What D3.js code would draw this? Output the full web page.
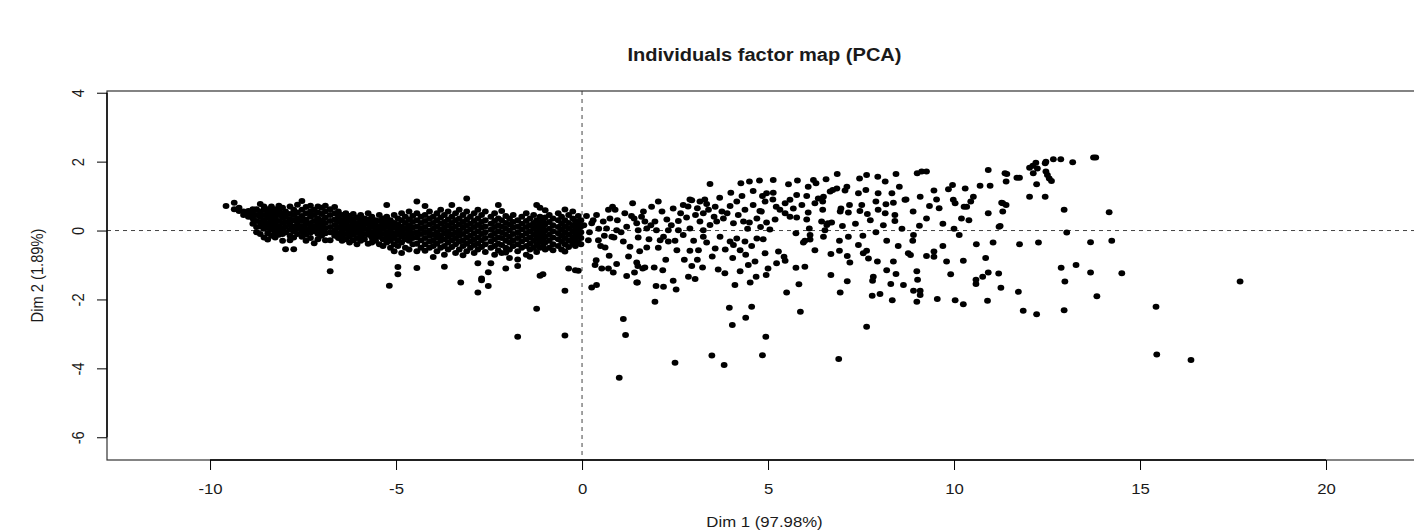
<!DOCTYPE html>
<html>
<head>
<meta charset="utf-8">
<script src="https://cdn.jsdelivr.net/npm/d3@7"></script>
<style>
body { margin: 0; background: #fff; }
svg { display: block; }
text { font-family: "Liberation Sans", Arial, sans-serif; fill: #1a1a1a; }
</style>
</head>
<body>
<svg id="chart" width="1414" height="530"></svg>
<script>
var xTicks = [-10, -5, 0, 5, 10, 15, 20];
var yTicks = [-6, -4, -2, 0, 2, 4];

// dense band on the left: [x, [y values]]
var bandColumns = [
	[-9.57, [0.71]],
	[-9.35, [0.81, 0.62]],
	[-9.22, [0.57, 0.66]],
	[-9.1, [0.55, 0.45]],
	[-8.97, [0.57, 0.4, 0.48]],
	[-8.85, [0.5, 0.35, 0.2, 0.62]],
	[-8.75, [0.45, 0.28, 0.1, 0.62, -0.05]],
	[-8.65, [0.77, 0.55, 0.4, 0.25, 0.12, -0.1]],
	[-8.55, [0.6, 0.45, 0.3, 0.18, 0.05, -0.2, 0.7]],
	[-8.45, [0.5, 0.38, 0.22, 0.08, -0.08, -0.26, 0.62]],
	[-8.35, [0.55, 0.42, 0.3, 0.15, 0.02, -0.15, 0.7]],
	[-8.25, [0.62, 0.48, 0.35, 0.2, 0.08, -0.05, -0.2]],
	[-8.15, [0.58, 0.45, 0.28, 0.12, 0.0, -0.12, 0.72]],
	[-8.05, [0.66, 0.5, 0.38, 0.22, 0.05, -0.1, -0.3]],
	[-7.97, [0.55, 0.4, 0.25, 0.1, -0.05, -0.54]],
	[-7.85, [0.7, 0.48, 0.33, 0.18, 0.02, -0.15, -0.28]],
	[-7.75, [0.6, 0.45, 0.3, 0.12, -0.02, -0.2, -0.54]],
	[-7.65, [0.75, 0.52, 0.36, 0.2, 0.05, -0.1]],
	[-7.53, [0.86, 0.6, 0.42, 0.28, 0.12, -0.02, -0.18]],
	[-7.42, [0.68, 0.5, 0.32, 0.18, 0.03, -0.12, -0.3]],
	[-7.3, [0.72, 0.55, 0.4, 0.22, 0.08, -0.06, -0.22]],
	[-7.2, [0.6, 0.45, 0.28, 0.12, -0.02, -0.37]],
	[-7.1, [0.7, 0.52, 0.35, 0.2, 0.05, -0.1, -0.25]],
	[-7.0, [0.66, 0.48, 0.3, 0.15, 0.0, -0.15]],
	[-6.9, [0.72, 0.55, 0.38, 0.22, 0.07, -0.08, -0.28]],
	[-6.77, [0.62, 0.45, 0.28, 0.1, -0.05, -0.28, -0.8, -1.18]],
	[-6.65, [0.68, 0.5, 0.32, 0.16, 0.0, -0.15]],
	[-6.55, [0.55, 0.4, 0.25, 0.08, -0.08, -0.22]],
	[-6.45, [0.45, 0.3, 0.15, 0.0, -0.15, -0.3]],
	[-6.35, [0.5, 0.35, 0.2, 0.05, -0.1, -0.25]],
	[-6.25, [0.42, 0.28, 0.12, -0.02, -0.18, -0.35]],
	[-6.15, [0.48, 0.32, 0.18, 0.03, -0.12, -0.28]],
	[-6.05, [0.38, 0.22, 0.08, -0.06, -0.22, -0.4]],
	[-5.95, [0.45, 0.3, 0.15, 0.0, -0.15, -0.3]],
	[-5.85, [0.35, 0.2, 0.05, -0.1, -0.25]],
	[-5.75, [0.5, 0.32, 0.18, 0.02, -0.12, -0.38]],
	[-5.65, [0.4, 0.25, 0.1, -0.05, -0.2, -0.35]],
	[-5.55, [0.3, 0.15, 0.0, -0.15, -0.3]],
	[-5.45, [0.45, 0.28, 0.12, -0.03, -0.18, -0.4]],
	[-5.35, [0.35, 0.2, 0.05, -0.1, -0.25, -0.45]],
	[-5.25, [0.74, 0.4, 0.25, 0.1, -0.05, -0.2, -0.35]],
	[-5.18, [-1.6]],
	[-5.15, [0.3, 0.15, 0.0, -0.15, -0.3, -0.5]],
	[-5.05, [0.45, 0.22, 0.08, -0.08, -0.22, -0.4, -0.6]],
	[-4.95, [0.35, 0.18, 0.02, -0.12, -0.28, -0.45, -1.06, -1.27]],
	[-4.85, [0.5, 0.3, 0.12, -0.02, -0.18, -0.35, -0.65]],
	[-4.75, [0.4, 0.22, 0.05, -0.1, -0.25, -0.5]],
	[-4.65, [0.55, 0.32, 0.15, 0.0, -0.15, -0.3, -0.55]],
	[-4.55, [0.42, 0.25, 0.08, -0.08, -0.22, -0.4]],
	[-4.44, [0.84, 0.5, 0.3, 0.12, -0.05, -0.2, -0.38, -0.6, -1.09]],
	[-4.33, [0.4, 0.22, 0.05, -0.1, -0.28, -0.5]],
	[-4.22, [0.71, 0.45, 0.28, 0.1, -0.05, -0.22, -0.4, -0.59]],
	[-4.1, [0.55, 0.35, 0.18, 0.0, -0.15, -0.32, -0.5]],
	[-4.0, [0.4, 0.22, 0.05, -0.12, -0.28, -0.45, -0.77]],
	[-3.9, [0.5, 0.3, 0.12, -0.05, -0.2, -0.38, -0.6]],
	[-3.8, [0.6, 0.38, 0.2, 0.02, -0.15, -0.3, -0.5]],
	[-3.7, [0.45, 0.25, 0.08, -0.08, -0.25, -0.45, -0.7, -1.05]],
	[-3.6, [0.55, 0.32, 0.15, -0.02, -0.18, -0.35, -0.55]],
	[-3.5, [0.74, 0.4, 0.22, 0.05, -0.12, -0.28, -0.48]],
	[-3.4, [0.5, 0.3, 0.12, -0.05, -0.22, -0.4, -0.65]],
	[-3.3, [0.6, 0.35, 0.18, 0.0, -0.15, -0.32, -0.55]],
	[-3.2, [0.45, 0.25, 0.08, -0.1, -0.28, -0.45, -0.72]],
	[-3.1, [0.93, 0.55, 0.32, 0.15, -0.02, -0.2, -0.38, -0.6]],
	[-3.0, [0.4, 0.2, 0.03, -0.15, -0.32, -0.5]],
	[-2.9, [0.5, 0.28, 0.1, -0.08, -0.25, -0.42, -0.65]],
	[-2.8, [0.6, 0.35, 0.16, -0.02, -0.2, -0.38, -0.55, -0.95, -1.8]],
	[-2.7, [0.45, 0.25, 0.08, -0.1, -0.28, -0.48, -1.39, -1.44]],
	[-2.6, [0.55, 0.3, 0.12, -0.05, -0.22, -0.4, -0.62]],
	[-2.52, [-1.21, -1.61]],
	[-2.45, [0.4, 0.2, 0.02, -0.15, -0.32, -0.5, -0.95]],
	[-2.35, [0.5, 0.28, 0.1, -0.08, -0.25, -0.45, -0.7]],
	[-2.25, [0.74, 0.35, 0.15, -0.02, -0.2, -0.38, -0.58]],
	[-2.16, [0.57, 0.3, 0.12, -0.05, -0.22, -0.42, -0.65]],
	[-2.05, [0.42, 0.22, 0.05, -0.12, -0.3, -0.5, -0.64, -1.1]],
	[-1.95, [0.35, 0.18, 0.0, -0.18, -0.35, -0.55, -0.8]],
	[-1.85, [0.45, 0.25, 0.08, -0.1, -0.28, -0.45]],
	[-1.73, [0.3, 0.12, -0.05, -0.22, -0.4, -0.6, -0.84, -1.03, -3.08]],
	[-1.62, [0.4, 0.2, 0.03, -0.15, -0.32, -0.5]],
	[-1.5, [0.5, 0.28, 0.1, -0.08, -0.25, -0.45, -0.7]],
	[-1.4, [0.35, 0.15, -0.02, -0.2, -0.38, -0.55, -0.76]],
	[-1.3, [0.45, 0.22, 0.05, -0.12, -0.3, -0.5]],
	[-1.22, [0.74, 0.3, 0.12, -0.05, -0.22, -0.4, -0.62, -2.27]],
	[-1.13, [0.66, 0.4, 0.2, 0.02, -0.15, -0.32, -0.5, -1.31]],
	[-1.05, [0.3, 0.1, -0.08, -0.25, -0.45, -1.27]],
	[-0.99, [0.59, 0.38, 0.18, 0.0, -0.18, -0.35, -0.55]],
	[-0.88, [0.45, 0.25, 0.05, -0.12, -0.3, -0.5]],
	[-0.78, [0.35, 0.15, -0.02, -0.2, -0.4, -0.57]],
	[-0.64, [0.5, 0.3, 0.1, -0.08, -0.25, -0.45]],
	[-0.55, [0.4, 0.2, 0.02, -0.15, -0.32, -0.55]],
	[-0.46, [0.61, 0.3, 0.12, -0.05, -0.22, -0.4, -0.61, -1.75, -3.05]],
	[-0.36, [0.45, 0.22, 0.05, -0.12, -0.3, -0.48, -1.1]],
	[-0.25, [0.55, 0.35, 0.15, -0.02, -0.2, -0.38]],
	[-0.18, [0.28, 0.08, -0.1, -0.28, -0.45, -1.15]],
	[-0.1, [0.42, 0.2, 0.02, -0.15, -0.35, -1.17]],
	[-0.03, [0.3, 0.12, -0.05, -0.22, -0.4]]
];

// points between 0 and 5 on Dim 1
var midPoints = [
	[0.26,-1.65],[0.39,-1.58],[0.38,-0.86],[0.35,-1.0],[0.53,-1.1],[0.71,-1.1],[0.84,-1.22],[0.93,-0.97],
	[0.73,-0.73],[0.62,-0.49],[0.86,-0.2],[1.2,-1.32],[1.41,-1.22],[1.47,-0.93],[1.5,-1.03],[1.63,-1.1],
	[1.69,-1.07],[1.47,-1.51],[1.96,-2.07],[1.99,-1.61],[2.19,-1.63],[2.17,-1.15],[1.94,-1.07],[2.45,-1.46],
	[2.53,-1.71],[2.86,-1.34],[3.04,-1.41],[2.95,-1.03],[3.24,-1.07],[3.66,-1.13],[3.84,-1.24],[4.11,-1.58],
	[4.25,-1.18],[4.47,-1.0],[4.52,-1.51],[4.68,-1.34],[4.95,-1.29],[4.92,-0.66],[4.87,-0.25],
	[3.44,1.35],[4.27,1.37],[4.5,1.42],[4.77,1.45],[2.9,0.9],[3.17,0.84],[3.35,0.77],[2.72,0.74],[2.05,0.84],
	[1.87,0.69],[1.36,0.79],[1.65,0.55],[0.82,0.69],[0.89,0.6],[0.71,0.6],[0.39,0.45],[0.12,0.42],[0.57,0.26],
	[1.33,0.42],[1.47,0.21],[1.69,0.26],[1.96,0.26],[2.28,0.32],[2.45,0.64],[2.59,0.28],[2.81,0.38],[3.26,0.5],
	[3.58,0.69],[3.76,0.55],[3.98,0.71],[4.16,0.84],[4.38,0.6],[4.6,0.74],[4.78,0.57],[4.7,0.35],[4.5,0.23],
	[4.34,0.26],[4.07,0.21],[3.8,0.35],[3.62,0.26],[3.44,0.16],[3.17,0.26],[3.26,0.01],[2.9,0.06],[2.59,0.01],
	[2.32,0.01],[2.0,0.01],[1.74,0.06],[1.51,0.01],[1.2,0.11],[0.93,0.01],[0.66,0.06],[0.26,0.21],[0.17,-0.28],
	[0.44,-0.28],[0.8,-0.18],[1.11,-0.32],[1.29,-0.47],[1.51,-0.2],[1.74,-0.49],[2.1,-0.28],[2.19,-0.18],
	[2.32,-0.32],[2.55,-0.57],[2.9,-0.59],[3.13,-0.57],[2.72,-0.13],[3.26,-0.18],[3.58,-0.52],[3.71,-0.18],
	[3.98,-0.32],[4.07,-0.42],[4.16,-0.23],[4.38,-0.32],[4.25,-0.57],[4.56,-0.45],[4.7,-0.23],
	[0.05,0.15],[0.2,-0.05],[0.3,0.3],[0.45,0.05],[0.5,-0.45],[0.6,-0.15],[0.75,0.35],[0.95,0.3],[1.05,-0.05],
	[1.15,0.5],[1.25,-0.75],[1.4,0.35],[1.55,-0.6],[1.6,0.4],[1.8,-0.25],[1.85,0.15],[2.05,-0.5],[2.15,0.55],
	[2.25,-0.85],[2.4,0.15],[2.5,-0.3],[2.65,0.5],[2.75,-0.85],[2.85,0.7],[3.0,-0.3],[3.05,0.45],[3.1,-0.85],
	[3.35,-0.35],[3.4,0.6],[3.5,-0.75],[3.55,0.4],[3.7,0.95],[3.85,-0.55],[3.9,0.5],[4.0,1.1],[4.05,-0.8],
	[4.2,0.45],[4.3,1.0],[4.4,-0.7],[4.45,0.05],[4.6,1.15],[4.65,-0.9],[4.8,0.1],[4.85,1.0],[3.3,0.9],[3.1,0.65],[2.95,0.88]
];

// upper right fan, Dim 1 above 5
var upperPoints = [
	[6.86,1.64],[7.65,1.61],[7.46,1.51],[7.95,1.56],[8.15,1.42],[8.44,1.64],[9.01,1.66],[9.13,1.71],[9.26,1.71],
	[10.92,1.76],[11.42,1.64],[10.97,1.3],[11.4,1.42],[6.56,1.49],[6.22,1.47],[5.79,1.45],[5.14,1.47],[5.55,1.34],
	[6.08,1.27],[6.29,1.37],[6.85,1.22],[7.12,1.27],[6.74,1.18],[7.07,1.16],[7.43,1.08],[7.63,1.18],[7.96,1.08],
	[8.33,1.08],[8.53,1.27],[8.71,0.9],[9.09,0.98],[9.46,1.16],[9.53,0.9],[9.34,0.71],[9.26,0.35],[9.07,0.14],
	[9.85,1.2],[9.96,1.32],[9.98,0.89],[10.03,0.79],[10.3,1.22],[10.52,0.98],[10.45,0.84],[10.27,0.69],[10.34,0.69],
	[10.92,0.5],[11.28,0.81],[11.31,0.55],[11.21,0.11],[10.14,-0.13],[8.91,-0.13],[8.89,-0.3],[9.7,-0.45],
	[9.46,-0.61],[9.26,-0.74],[9.46,-0.76],[8.77,-0.66],[8.83,-0.71],[10.25,-0.88],[9.91,-1.27],[10.77,-1.34],
	[10.92,-1.22],[9.0,-1.18],[8.44,-1.26],[8.19,-1.15],[8.37,-0.9],[7.83,-1.34],[7.94,-0.9],[7.7,-0.81],
	[7.65,-0.59],[7.56,-0.66],[7.43,-0.42],[8.19,-0.3],[7.16,-0.18],[6.92,-0.3],[6.92,-0.59],[6.69,-0.68],
	[7.13,-0.74],[7.2,-0.93],[6.69,-1.29],[6.26,-0.57],[6.49,-0.18],[6.13,-0.26],[5.99,-0.3],[5.99,-1.05],
	[5.75,-1.08],[5.0,-1.1],[5.23,-0.95],[5.43,-0.76],[5.46,-0.88],[5.28,-0.61],[5.05,0.03],[5.75,-0.08],
	[5.95,-0.35],[6.13,-0.13],[6.11,0.06],[6.44,0.26],[6.61,0.21],[7.0,0.13],[6.53,0.01],[7.47,0.57],[7.67,0.48],
	[7.96,0.6],[8.15,0.5],[8.41,0.45],[8.41,0.28],[8.68,0.89],[8.37,0.81],[8.17,0.76],[7.9,0.84],[7.52,0.74],
	[7.19,0.74],[6.96,0.64],[7.16,0.52],[6.94,0.55],[6.71,0.23],[6.58,0.16],[6.47,0.6],[6.47,0.84],[6.35,0.93],
	[6.04,1.0],[5.77,1.03],[5.59,0.89],[5.46,0.79],[5.68,0.64],[5.91,0.74],[6.08,0.52],[6.04,0.32],[5.77,0.38],
	[5.59,0.4],[5.46,0.5],[5.19,0.32],[4.96,0.23],[4.82,0.55],[4.92,0.84],[5.13,0.9],[5.32,0.6],[5.22,0.69],
	[4.96,1.08],[5.14,1.1],[6.26,0.79],[6.49,0.98],[6.67,1.13],
	[10.85,-0.8],[11.2,-1.25],[11.05,-0.35],[10.6,-0.4],[10.4,0.3],[7.9,-0.05],[8.1,0.15],[8.6,0.05],[8.5,-0.45],
	[7.35,0.2],[7.55,-0.15],[7.75,0.3],[8.9,0.55],[9.7,0.2],[9.8,-0.9],[10.0,0.05],[9.6,0.65],[10.7,1.3],[10.2,0.35],
	[11.37,1.66],[11.69,1.53],[11.76,1.53],[12.03,1.82],[12.12,1.88],[12.2,1.97],[12.13,1.66],[12.24,1.8],
	[12.45,1.95],[12.47,2.0],[12.67,2.07],[12.87,2.07],[13.19,1.98],[13.75,2.12],[13.81,2.12],[12.47,1.71],
	[12.51,1.61],[12.56,1.51],[12.62,1.44],[12.22,1.34],[12.03,0.98],[12.45,0.98],[11.31,0.79],[11.4,0.74],
	[12.96,0.6],[14.17,0.53],[11.24,0.13],[13.03,-0.06],[11.76,-0.4],[12.27,-0.35],[13.67,-0.34],[14.24,-0.3]
];

// scattered points below the band
var lowerPoints = [
	[-3.26,-1.51],[1.0,-4.27],[1.11,-2.57],[1.17,-3.03],[1.49,-1.51],[2.5,-3.84],[3.49,-3.63],[3.82,-3.9],
	[3.96,-2.24],[4.04,-2.74],[4.4,-2.53],[4.56,-2.21],[4.94,-3.08],[4.85,-3.62],[5.87,-2.36],[5.83,-1.56],
	[5.5,-1.8],[6.9,-3.73],[6.94,-1.8],[7.13,-1.47],[7.65,-2.79],[7.8,-1.89],[8.01,-1.84],[7.81,-1.46],
	[8.3,-1.55],[8.34,-2.02],[8.64,-1.58],[8.91,-1.75],[9.0,-2.07],[9.09,-1.87],[9.09,-1.75],[9.02,-1.43],
	[9.55,-1.99],[10.03,-2.02],[10.25,-2.14],[10.59,-1.55],[10.59,-1.43],[10.9,-2.04],[11.26,-1.66],
	[11.73,-1.78],[11.86,-2.33],[12.22,-2.43],[12.96,-2.31],[12.98,-1.48],[13.84,-1.91],[12.88,-1.08],
	[13.28,-1.0],[13.67,-1.22],[14.51,-1.24],[15.43,-2.21],[15.45,-3.6],[16.37,-3.76],[17.69,-1.48]
];

var svg = d3.select("#chart"),
	plotLeft = 107, plotRight = 1422, plotTop = 91, plotBottom = 460,
	stretch = 1.14;

var x_scale = d3.scaleLinear().domain([-12.77, 22.58]).range([plotLeft, plotRight]);
var y_scale = d3.scaleLinear().domain([4.05, -6.66]).range([plotTop, plotBottom]);

var points = [];
bandColumns.forEach(function(c) {
	c[1].forEach(function(v) { points.push([c[0], v]); });
});
points = points.concat(midPoints, upperPoints, lowerPoints);

// reference lines at 0
svg.append("line")
	.attr("x1", plotLeft).attr("x2", plotRight)
	.attr("y1", y_scale(0)).attr("y2", y_scale(0))
	.attr("stroke", "#444").attr("stroke-dasharray", "4,4");
svg.append("line")
	.attr("x1", x_scale(0)).attr("x2", x_scale(0))
	.attr("y1", plotTop).attr("y2", plotBottom)
	.attr("stroke", "#444").attr("stroke-dasharray", "4,4");

svg.append("g")
	.selectAll("ellipse")
	.data(points)
	.enter().append("ellipse")
	.attr("cx", function(d) { return x_scale(d[0]); })
	.attr("cy", function(d) { return y_scale(d[1]); })
	.attr("rx", 3.4)
	.attr("ry", 3.0)
	.attr("fill", "#000");

// box
svg.append("rect")
	.attr("x", plotLeft).attr("y", plotTop)
	.attr("width", plotRight - plotLeft).attr("height", plotBottom - plotTop)
	.attr("fill", "none").attr("stroke", "#333").attr("stroke-width", 1.2);

// axes
var xAxis = svg.append("g")
	.attr("transform", "translate(0," + plotBottom + ")")
	.call(d3.axisBottom(x_scale).tickValues(xTicks).tickSize(10).tickFormat(function(d) { return String(d); }));
xAxis.select(".domain").remove();
xAxis.append("line")
	.attr("x1", x_scale(xTicks[0])).attr("x2", x_scale(xTicks[xTicks.length - 1]))
	.attr("stroke", "#000").attr("stroke-width", 1.4);
xAxis.selectAll(".tick line").attr("stroke", "#000");
xAxis.selectAll(".tick text")
	.attr("y", null).attr("dy", null)
	.attr("transform", "translate(0,33.5) scale(" + stretch + ",1)")
	.style("font-size", "14.7px")
	.attr("fill", "#1a1a1a");

var yAxis = svg.append("g")
	.attr("transform", "translate(" + plotLeft + ",0)")
	.call(d3.axisLeft(y_scale).tickValues(yTicks).tickSize(10).tickFormat(function(d) { return String(d); }));
yAxis.select(".domain").remove();
yAxis.append("line")
	.attr("y1", y_scale(yTicks[0])).attr("y2", y_scale(yTicks[yTicks.length - 1]))
	.attr("stroke", "#000").attr("stroke-width", 1.4);
yAxis.selectAll(".tick line").attr("stroke", "#000");
yAxis.selectAll(".tick text")
	.attr("x", null).attr("dy", null)
	.attr("text-anchor", "middle")
	.attr("transform", "translate(-23,0) scale(" + stretch + ",1) rotate(-90)")
	.style("font-size", "14.7px")
	.attr("fill", "#1a1a1a");
svg.selectAll(".tick text").attr("font-family", null);

// titles
svg.append("text")
	.attr("transform", "translate(" + (plotLeft + plotRight) / 2 + ",61) scale(" + stretch + ",1)")
	.attr("text-anchor", "middle")
	.style("font-size", "17.6px").style("font-weight", "bold")
	.text("Individuals factor map (PCA)");

svg.append("text")
	.attr("transform", "translate(" + (plotLeft + plotRight) / 2 + ",526.5) scale(" + stretch + ",1)")
	.attr("text-anchor", "middle")
	.style("font-size", "14.7px")
	.text("Dim 1 (97.98%)");

svg.append("text")
	.attr("transform", "translate(43," + (plotTop + plotBottom) / 2 + ") scale(" + stretch + ",1) rotate(-90)")
	.attr("text-anchor", "middle")
	.style("font-size", "14.7px")
	.text("Dim 2 (1.89%)");
</script>
</body>
</html>
